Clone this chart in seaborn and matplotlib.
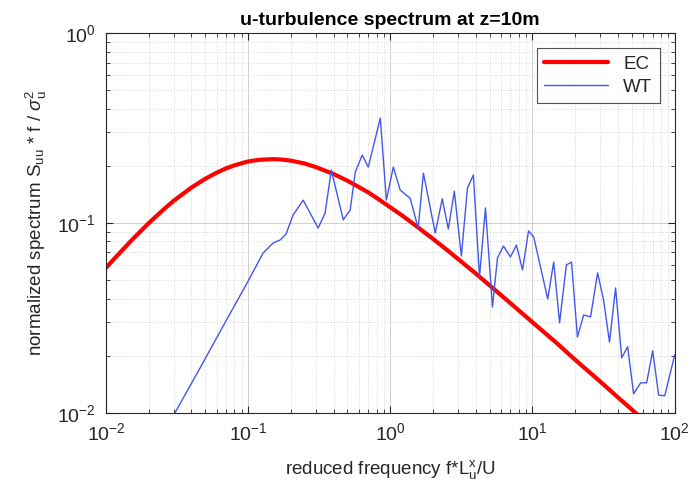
import numpy as np
import pandas as pd
import matplotlib
matplotlib.use("Agg")
import matplotlib.pyplot as plt
import seaborn as sns
from matplotlib.ticker import LogLocator, NullFormatter

# EC (Eurocode reference spectrum)
ec_f = [0.01, 0.012, 0.015, 0.02, 0.025, 0.03, 0.04, 0.05, 0.06, 0.07, 0.08, 0.1,
        0.12, 0.15, 0.17, 0.2, 0.25, 0.3, 0.4, 0.5, 0.6, 0.7, 0.8,
        1.0, 1.2, 1.5, 2.0, 2.5, 3.0, 4.0, 5.0, 7.0, 10.0, 15.0, 20.0, 30.0,
        40.0, 50.0, 70.0, 100.0]
ec_s = [0.058, 0.0673, 0.0804, 0.0998, 0.1164, 0.131, 0.1538, 0.171, 0.184, 0.194,
        0.2012, 0.211, 0.2153, 0.217, 0.2162, 0.213, 0.2058, 0.197, 0.1811, 0.167,
        0.1548, 0.145, 0.1357, 0.121, 0.1101, 0.0972, 0.0824, 0.0722, 0.0646,
        0.0541, 0.0469, 0.0378, 0.030, 0.0231, 0.019, 0.0146, 0.01204, 0.0104,
        0.0083, 0.0066]

# WT (wind tunnel) spectrum
wt_f = [0.0306, 0.0459, 0.0711, 0.0984, 0.1276, 0.150, 0.168, 0.185, 0.207, 0.244,
        0.311, 0.348, 0.385, 0.467, 0.522, 0.568, 0.635, 0.700, 0.851, 0.938,
        1.05, 1.175, 1.38, 1.57, 1.71, 2.07, 2.32, 2.56, 2.82, 3.16,
        3.49, 3.84, 4.24, 4.67, 5.23, 5.67, 6.25, 7.00, 7.71, 8.51,
        9.38, 10.2, 12.8, 14.1, 15.5, 17.3, 18.8, 20.7, 22.9, 25.6,
        28.7, 31.6, 34.8, 38.4, 42.4, 46.7, 51.4, 57.7, 63.5, 70.0,
        77.1, 85.1, 100.0]
wt_s = [0.0100, 0.0172, 0.0312, 0.0483, 0.0695, 0.0785, 0.0814, 0.0875, 0.110, 0.132,
        0.0941, 0.113, 0.190, 0.104, 0.117, 0.186, 0.228, 0.197, 0.357, 0.132,
        0.197, 0.149, 0.135, 0.0941, 0.183, 0.0886, 0.134, 0.0929, 0.147, 0.0670,
        0.153, 0.179, 0.0520, 0.120, 0.0361, 0.0654, 0.0757, 0.0662, 0.0766, 0.0566,
        0.0908, 0.0844, 0.0398, 0.0623, 0.0298, 0.0601, 0.0623, 0.0251, 0.0328, 0.0320,
        0.0546, 0.0393, 0.0236, 0.0455, 0.0195, 0.0223, 0.0126, 0.0144, 0.0144, 0.0212,
        0.0124, 0.0123, 0.0202]

ec_df = pd.DataFrame({"f": ec_f, "S": ec_s})
wt_df = pd.DataFrame({"f": wt_f, "S": wt_s})

sns.set_theme(style="ticks")
plt.rcParams["font.family"] = ["Liberation Sans", "DejaVu Sans"]
plt.rcParams["mathtext.fontset"] = "custom"
plt.rcParams["mathtext.rm"] = "Liberation Sans"
plt.rcParams["mathtext.it"] = "Liberation Sans:italic"
plt.rcParams["mathtext.bf"] = "Liberation Sans:bold"

fig = plt.figure(figsize=(6.92, 4.88), dpi=100)
ax = fig.add_axes([0.153, 0.154, 0.822, 0.778])
ax.set_xscale("log")
ax.set_yscale("log")

sns.lineplot(data=ec_df, x="f", y="S", ax=ax, color="#ff0000", linewidth=3.0,
             label="EC", estimator=None, sort=False)
sns.lineplot(data=wt_df, x="f", y="S", ax=ax, color="#4357ea", linewidth=1.0,
             label="WT", estimator=None, sort=False)

ax.set_xlim(1e-2, 1e2)
ax.set_ylim(1e-2, 1e0)

ax.xaxis.set_major_locator(LogLocator(base=10, numticks=10))
ax.yaxis.set_major_locator(LogLocator(base=10, numticks=10))
ax.xaxis.set_minor_locator(LogLocator(base=10, subs=np.arange(2, 10), numticks=20))
ax.yaxis.set_minor_locator(LogLocator(base=10, subs=np.arange(2, 10), numticks=20))
ax.xaxis.set_minor_formatter(NullFormatter())
ax.yaxis.set_minor_formatter(NullFormatter())

ax.grid(True, which="major", color="#d0d0d0", linestyle="-", linewidth=0.7)
ax.grid(True, which="minor", color="#d6d6d6", linestyle=":", linewidth=0.7)
ax.set_axisbelow(True)

gray = "#262626"
for sp in ax.spines.values():
    sp.set_color(gray)
    sp.set_linewidth(0.8)
    sp.set_visible(True)
ax.tick_params(which="both", direction="in", top=True, right=True, colors=gray,
               labelsize=14, labelcolor=gray)
ax.tick_params(which="major", length=5, width=0.8, pad=7)
ax.tick_params(which="minor", length=3, width=0.6)

ax.set_xlabel(r"reduced frequency f*L$\mathregular{_u^x}$/U", fontsize=13.5,
              color=gray, labelpad=10)
ax.set_ylabel(r"normalized spectrum S$\mathregular{_{uu}}$ * f / $\sigma\mathregular{_u^2}$",
              fontsize=13.5, color=gray, labelpad=6)
ax.set_title("u-turbulence spectrum at z=10m", fontsize=14, fontweight="bold",
             color="black", pad=6)

leg = ax.legend(loc="upper right", fontsize=13.5, frameon=True, fancybox=False,
                edgecolor=gray, handlelength=3.4, borderpad=0.4, labelspacing=0.3,
                borderaxespad=0.8)
leg.get_frame().set_linewidth(0.8)
for t in leg.get_texts():
    t.set_color(gray)

fig.savefig("out.png", dpi=100)
